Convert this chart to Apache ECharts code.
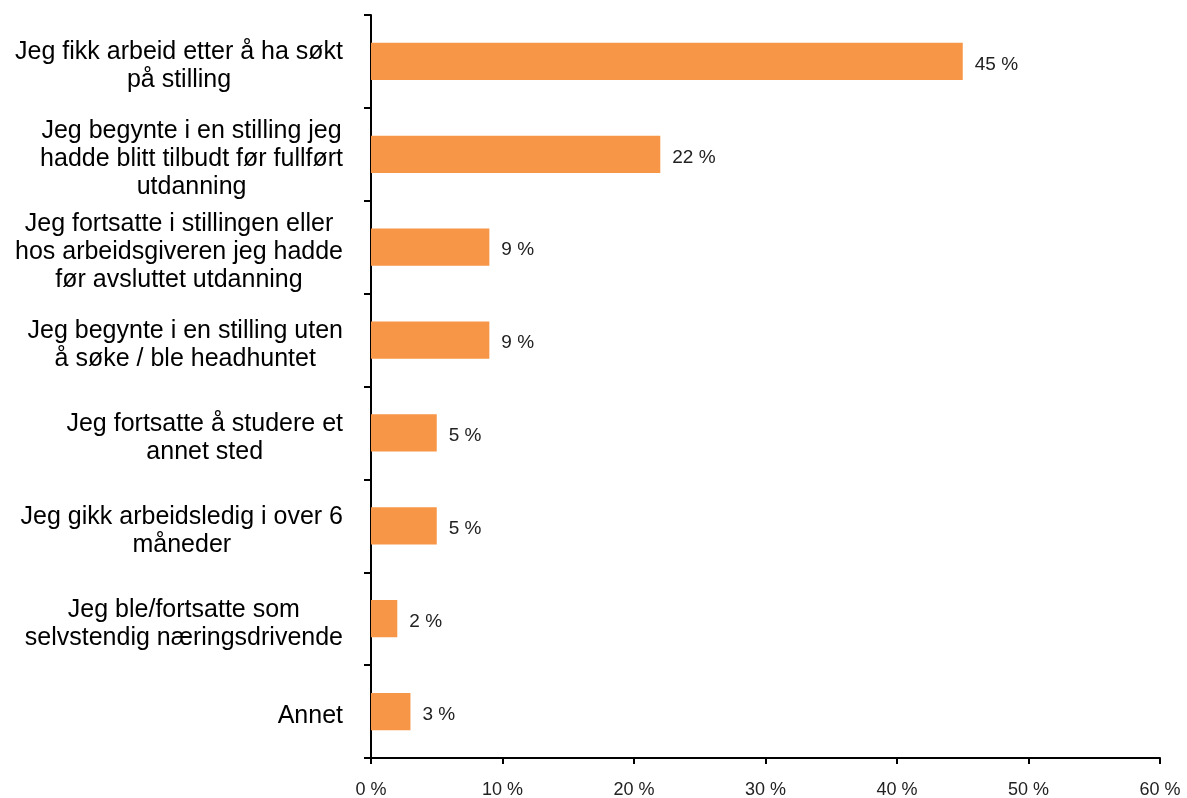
<!DOCTYPE html>
<html>
<head>
<meta charset="utf-8">
<script src="https://cdn.jsdelivr.net/npm/echarts@6/dist/echarts.min.js"></script>
<style>
  html, body { margin: 0; padding: 0; background: #fff; }
  #main { width: 1187px; height: 798px; }
</style>
</head>
<body>
<div id="main"></div>
<script>
  // kategorier (ovenfra og ned)
  var categories = [
    'Jeg fikk arbeid etter å ha søkt\npå stilling',
    'Jeg begynte i en stilling jeg\nhadde blitt tilbudt før fullført\nutdanning',
    'Jeg fortsatte i stillingen eller\nhos arbeidsgiveren jeg hadde\nfør avsluttet utdanning',
    'Jeg begynte i en stilling uten\nå søke / ble headhuntet',
    'Jeg fortsatte å studere et\nannet sted',
    'Jeg gikk arbeidsledig i over 6\nmåneder',
    'Jeg ble/fortsatte som\nselvstendig næringsdrivende',
    'Annet'
  ]
  var values = [45, 22, 9, 9, 5, 5, 2, 3]
  var xTicks = { min: 0, max: 60, interval: 10 }

  var myChart = echarts.init(document.getElementById('main'))
  myChart.setOption({
    animation: false,
    grid: { left: 371, right: 27, top: 15, bottom: 40, outerBoundsMode: 'none' },
    xAxis: {
      type: 'value',
      min: xTicks.min,
      max: xTicks.max,
      interval: xTicks.interval,
      axisLine: { show: true, lineStyle: { color: '#000', width: 2 } },
      axisTick: { show: true, length: 6, lineStyle: { color: '#000', width: 2 } },
      axisLabel: {
        formatter: '{value} %',
        color: '#222',
        fontFamily: 'Liberation Sans, Arial, sans-serif',
        fontSize: 18,
        margin: 23
      },
      splitLine: { show: false }
    },
    yAxis: {
      type: 'category',
      inverse: true,
      data: categories,
      axisLine: { show: true, lineStyle: { color: '#000', width: 2 } },
      axisTick: { show: true, length: 7, lineStyle: { color: '#000', width: 2 } },
      axisLabel: {
        margin: 28,
        align: 'right',
        padding: [10, 0, 0, 0],
        formatter: function (v) {
          return v.split('\n').map(function (l) { return '{c|' + l + '}' }).join('\n')
        },
        rich: {
          c: {
            align: 'center',
            color: '#000',
            fontFamily: 'Liberation Sans, Arial, sans-serif',
            fontSize: 25,
            lineHeight: 28
          }
        }
      }
    },
    series: [{
      type: 'bar',
      data: values,
      barWidth: '40%',
      itemStyle: { color: '#F79646' },
      label: {
        show: true,
        position: 'right',
        distance: 12,
        offset: [0, 3],
        formatter: '{c} %',
        color: '#222',
        fontFamily: 'Liberation Sans, Arial, sans-serif',
        fontSize: 19
      }
    }]
  })
</script>
</body>
</html>
